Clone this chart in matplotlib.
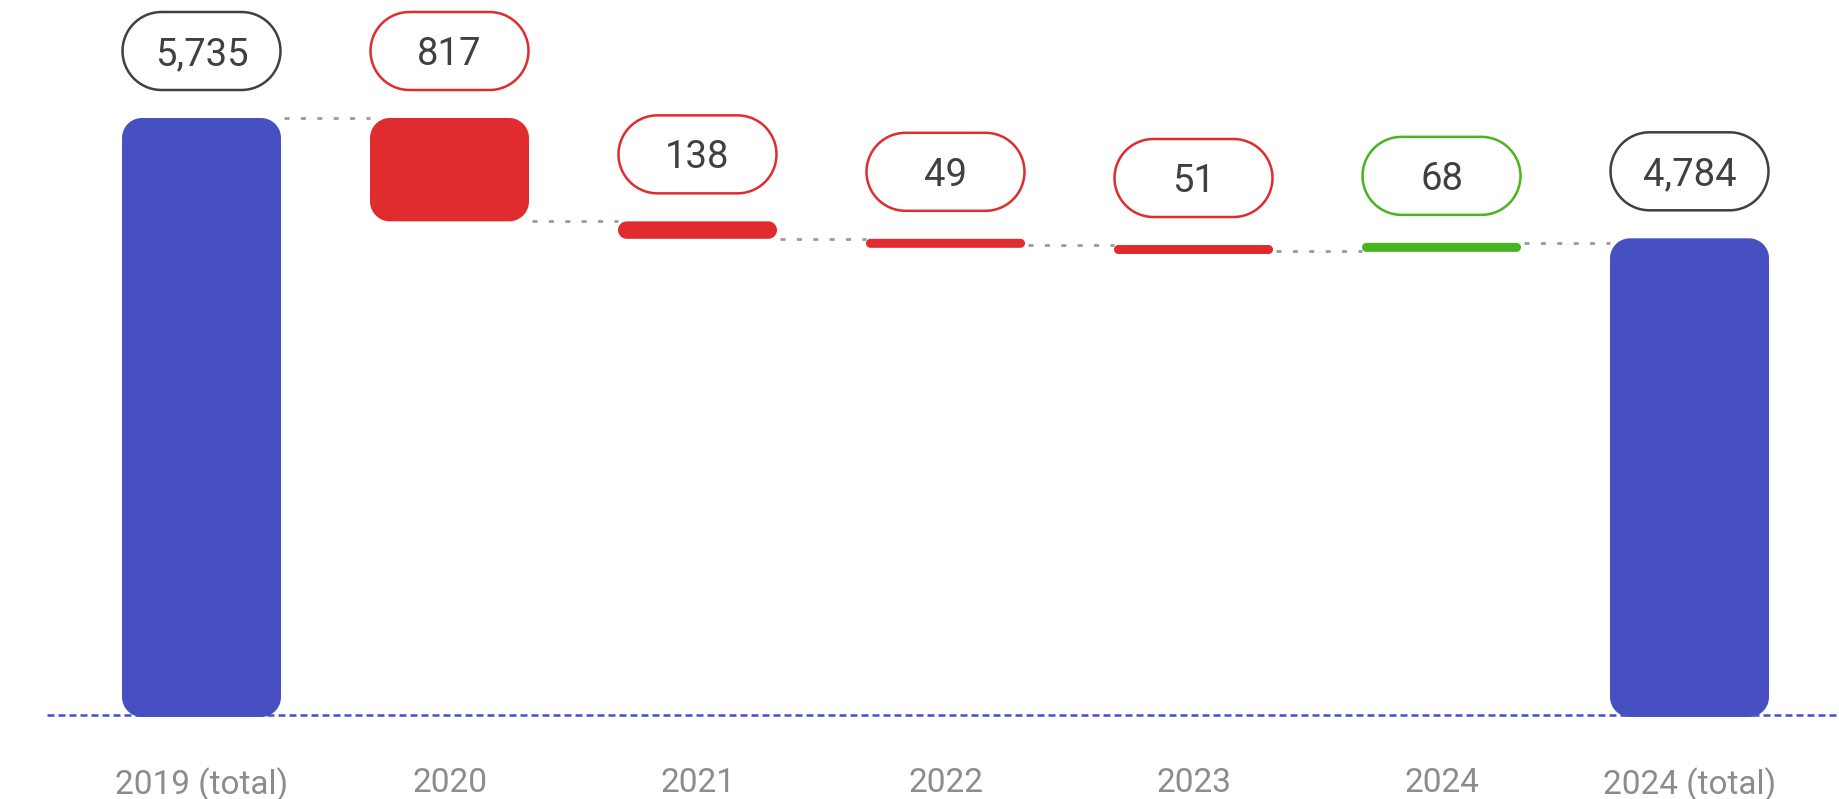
import matplotlib
matplotlib.use("Agg")
import matplotlib.pyplot as plt
from matplotlib.patches import Polygon
import numpy as np

plt.rcParams['font.family'] = ['Roboto', 'DejaVu Sans']

categories = ['2019 (total)', '2020', '2021', '2022', '2023', '2024', '2024 (total)']
values = [5735, -817, -138, -49, -51, 68, 4784]
is_total = [True, False, False, False, False, False, True]

BLUE = '#4750c0'
RED = '#e02b2f'
GREEN = '#48b520'
INK = '#404040'

W, H = 1839, 799
floor = 1000          # axis starts here, totals rise from it
base_px = 717         # pixel row of the axis floor
top_px = 118          # pixel row of the first total
step_px = 248         # spacing between bar centres
x0_px = 201.5         # centre of the first bar

fig = plt.figure(figsize=(W / 100, H / 100), dpi=100)
ax = fig.add_axes([0, (H - base_px) / H, 1, (base_px - top_px) / H])
ax.set_xlim(-x0_px / step_px, (W - x0_px) / step_px)
ax.set_ylim(floor, values[0])
for sp in ax.spines.values():
    sp.set_visible(False)
ax.set_yticks([])

px = step_px                                   # pixels per x unit
py = (base_px - top_px) / (values[0] - floor)  # pixels per y unit

# running levels for the waterfall
bottoms, heights, colors, levels = [], [], [], []
level = 0
for v, tot in zip(values, is_total):
    if tot:
        bottoms.append(floor)
        heights.append(v - floor)
        colors.append(BLUE)
        level = v
    else:
        if v < 0:
            bottoms.append(level + v)
            colors.append(RED)
        else:
            bottoms.append(level)
            colors.append(GREEN)
        heights.append(abs(v))
        level = level + v
    levels.append(level)

bars = ax.bar(range(len(values)), heights, bottom=bottoms, width=159 / step_px,
              visible=False)


def rounded(x, y, w, h, r_px, **kw):
    # rounded rectangle with circular corners, built in pixels then scaled to data
    wp, hp = w * px, h * py
    r = min(r_px, wp / 2, hp / 2)
    t = np.linspace(0, np.pi / 2, 20)
    pts = []
    for cx, cy, a0 in [(wp - r, hp - r, 0), (r, hp - r, np.pi / 2),
                       (r, r, np.pi), (wp - r, r, 1.5 * np.pi)]:
        pts += list(zip(cx + r * np.cos(t + a0), cy + r * np.sin(t + a0)))
    pts = np.array(pts)
    xy = np.column_stack([x + pts[:, 0] / px, y + pts[:, 1] / py])
    p = Polygon(xy, closed=True, **kw)
    ax.add_patch(p)
    return p


# floor line
ax.plot([(47 - x0_px) / step_px, (W - x0_px) / step_px], [floor + 2 / py] * 2,
        color=BLUE, lw=1.8, linestyle=(0, (2.8, 1.6)), zorder=1, clip_on=False)

for i, rect in enumerate(bars):
    x, y, w, h = rect.get_x(), rect.get_y(), rect.get_width(), rect.get_height()
    top = y + h
    if h * py < 9:
        h = 9 / py
        y = top - h
    rounded(x, y, w, h, 20, facecolor=colors[i], edgecolor='none', zorder=3)

    # value pill above the bar
    xc = x + w / 2
    bw = 158 / step_px
    pb = top + 28 / py
    ph = 78 / py
    edge = INK if is_total[i] else colors[i]
    rounded(xc - bw / 2, pb, bw, ph, 39, facecolor='white', edgecolor=edge,
            lw=1.8, zorder=4, clip_on=False)
    ax.text(xc, pb + ph / 2 - 14 / py, f"{abs(values[i]):,}", ha='center',
            va='baseline', fontsize=27.5, color=INK, zorder=5, clip_on=False)

# dotted connectors between neighbours
for i in range(len(bars) - 1):
    x1 = bars[i].get_x() + bars[i].get_width()
    x2 = bars[i + 1].get_x()
    ax.plot([x1 + 3 / px, x2], [levels[i]] * 2, color='#9a9a9a', lw=2,
            linestyle=(0, (1.8, 4.1)), zorder=2, clip_on=False)

ax.set_xticks(range(len(categories)), categories)
ax.tick_params(axis='x', length=0, pad=36, labelsize=24, labelcolor='#8c8c8c')

fig.savefig('out.png', dpi=100)
